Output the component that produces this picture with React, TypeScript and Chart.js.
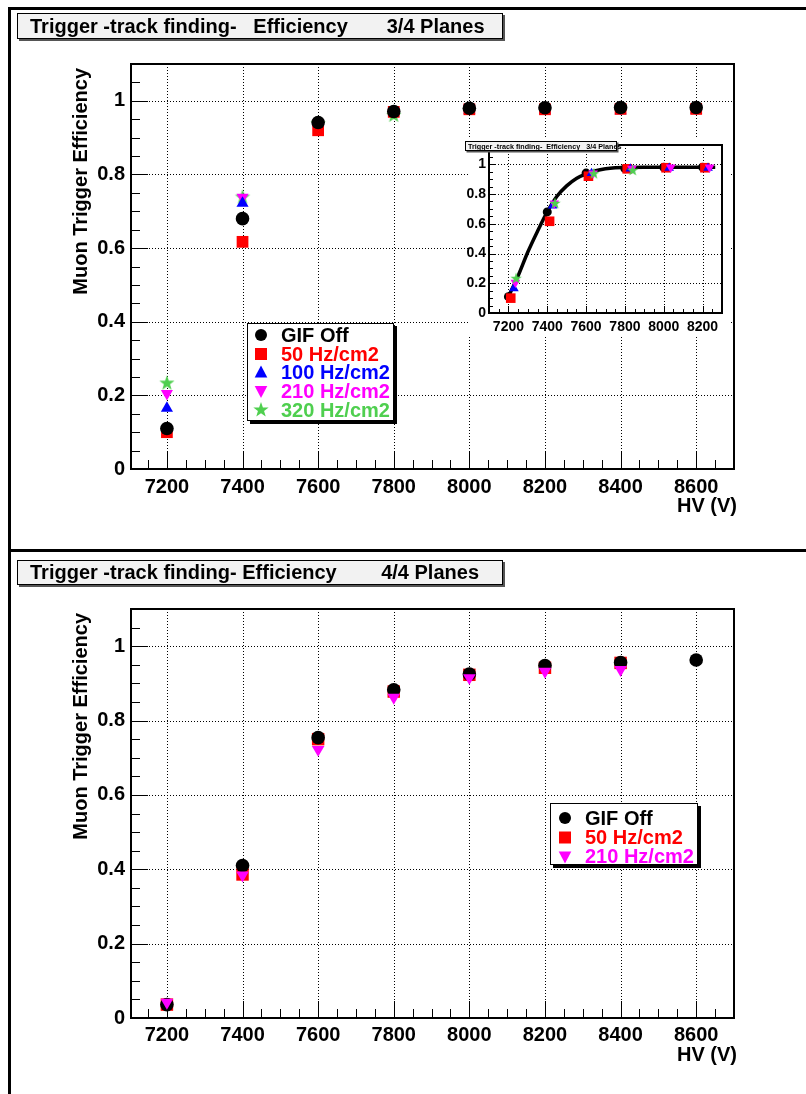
import React, { useEffect, useRef } from "react";
import { Chart, registerables } from "chart.js";

Chart.register(...registerables);

const FONT = "'Liberation Sans', Arial, Helvetica, sans-serif";

// ---------- data ----------
const hvValues = [7200, 7400, 7600, 7800, 8000, 8200, 8400, 8600];
const xTickValues = [7200, 7400, 7600, 7800, 8000, 8200, 8400, 8600];
const insetXTickValues = [7200, 7400, 7600, 7800, 8000, 8200];
const yTickValues = [0, 0.2, 0.4, 0.6, 0.8, 1];
const yTickLabels = ["0", "0.2", "0.4", "0.6", "0.8", "1"];

// 3/4 planes
const eff34GifOff = [0.11, 0.68, 0.941, 0.971, 0.98, 0.981, 0.982, 0.982];
const eff34Hz50 = [0.1, 0.617, 0.92, 0.97, 0.977, 0.977, 0.978, 0.978];
const eff34Hz100 = [0.165, 0.722, 0.94, 0.97, 0.975, 0.975, 0.973, 0.975];
const eff34Hz210 = [0.205, 0.738, 0.94, 0.972, 0.98, 0.98, 0.98, 0.98];
const eff34Hz320 = [0.235, 0.74, 0.94, 0.962];

const insetShift = [0, 12, 28, 36, 40];
const fitHV = [7200, 7250, 7300, 7350, 7400, 7450, 7500, 7550, 7600, 7650, 7700, 7750, 7800, 7900, 8000, 8100, 8200, 8265];
const fitEff = [0.11, 0.25, 0.41, 0.55, 0.68, 0.785, 0.855, 0.905, 0.935, 0.957, 0.97, 0.977, 0.979, 0.98, 0.98, 0.98, 0.98, 0.98];

// 4/4 planes
const eff44GifOff = [0.036, 0.41, 0.754, 0.883, 0.925, 0.948, 0.956, 0.963];
const eff44Hz50 = [0.036, 0.386, 0.75, 0.878, 0.923, 0.942, 0.955];
const eff44Hz210 = [0.042, 0.384, 0.722, 0.862, 0.915, 0.932, 0.937];

const names34 = ["GIF Off", "50 Hz/cm2", "100 Hz/cm2", "210 Hz/cm2", "320 Hz/cm2"];
const names44 = ["GIF Off", "50 Hz/cm2", "210 Hz/cm2"];

const title34 = "Trigger -track finding-   Efficiency       3/4 Planes";
const title44 = "Trigger -track finding- Efficiency        4/4 Planes";
const insetTitle = "Trigger -track finding-  Efficiency   3/4 Planes";
const yTitle = "Muon Trigger Efficiency";
const xTitle = "HV (V)";

// ---------- styles ----------
const BLACK = "#000000";
const RED = "#ff0000";
const BLUE = "#0000ff";
const MAGENTA = "#ff00ff";
const GREEN = "#4fcf4f";

type Kind = "circle" | "square" | "up" | "down" | "star";

function starPath(ctx: CanvasRenderingContext2D, x: number, y: number, R: number) {
  const r = R * 0.4;
  ctx.beginPath();
  for (let i = 0; i < 10; i++) {
    const rad = i % 2 === 0 ? R : r;
    const a = -Math.PI / 2 + (i * Math.PI) / 5;
    const px = x + rad * Math.cos(a);
    const py = y + rad * Math.sin(a);
    if (i === 0) ctx.moveTo(px, py);
    else ctx.lineTo(px, py);
  }
  ctx.closePath();
}

function makeStar(color: string, R: number): HTMLCanvasElement {
  const c = document.createElement("canvas");
  const s = Math.ceil(2 * R + 2);
  c.width = s;
  c.height = s;
  const ctx = c.getContext("2d")!;
  ctx.fillStyle = color;
  starPath(ctx, s / 2, s / 2 + R * 0.1, R);
  ctx.fill();
  return c;
}

function drawMarker(ctx: CanvasRenderingContext2D, kind: Kind, x: number, y: number, s: number, color: string) {
  ctx.save();
  ctx.fillStyle = color;
  ctx.beginPath();
  if (kind === "circle") ctx.arc(x, y, s, 0, Math.PI * 2);
  else if (kind === "square") ctx.rect(x - s, y - s, 2 * s, 2 * s);
  else if (kind === "up") {
    ctx.moveTo(x, y - s);
    ctx.lineTo(x + s * 0.9, y + s * 0.7);
    ctx.lineTo(x - s * 0.9, y + s * 0.7);
    ctx.closePath();
  } else if (kind === "down") {
    ctx.moveTo(x, y + s);
    ctx.lineTo(x + s * 0.9, y - s * 0.7);
    ctx.lineTo(x - s * 0.9, y - s * 0.7);
    ctx.closePath();
  } else starPath(ctx, x, y, s * 1.15);
  ctx.fill();
  ctx.restore();
}

function drawTitleBox(ctx: CanvasRenderingContext2D, x: number, y: number, w: number, h: number, text: string, size: number, tx: number, baseline: number, shadow: number) {
  ctx.save();
  ctx.fillStyle = "#555";
  ctx.fillRect(x + shadow, y + shadow, w, h);
  ctx.fillStyle = "#f2f2f2";
  ctx.fillRect(x, y, w, h);
  ctx.strokeStyle = "#000";
  ctx.lineWidth = 1;
  ctx.strokeRect(x + 0.5, y + 0.5, w - 1, h - 1);
  ctx.fillStyle = "#000";
  ctx.font = `bold ${size}px ${FONT}`;
  ctx.textAlign = "left";
  ctx.textBaseline = "alphabetic";
  ctx.fillText(text, tx, baseline);
  ctx.restore();
}

interface LegendEntry { label: string; color: string; kind: Kind; size: number }

function drawLegend(ctx: CanvasRenderingContext2D, x: number, y: number, w: number, h: number, entries: LegendEntry[], rowY: number[], markerX: number, textX: number) {
  ctx.save();
  ctx.fillStyle = "#000";
  ctx.fillRect(x + 3, y + 3, w, h);
  ctx.fillStyle = "#fff";
  ctx.fillRect(x, y, w, h);
  ctx.strokeStyle = "#000";
  ctx.lineWidth = 1;
  ctx.strokeRect(x + 0.5, y + 0.5, w - 1, h - 1);
  ctx.font = `bold 20px ${FONT}`;
  ctx.textBaseline = "middle";
  ctx.textAlign = "left";
  entries.forEach((e, i) => {
    drawMarker(ctx, e.kind, markerX, rowY[i], e.size, e.color);
    ctx.fillStyle = e.color;
    ctx.fillText(e.label, textX, rowY[i] + 1);
  });
  ctx.restore();
}

interface FrameOpts {
  xMinorStep: number;
  yMinorStep: number;
  xMajor: number[];
  yMajor: number[];
  majorLen: number;
  minorLen: number;
  frameWidth: number;
  background?: { x: number; y: number; w: number; h: number };
  after?: (chart: Chart) => void;
}

function framePlugin(o: FrameOpts) {
  return {
    id: "rootFrame",
    beforeDraw(chart: Chart) {
      if (!o.background) return;
      const ctx = chart.ctx;
      ctx.save();
      ctx.fillStyle = "#fff";
      ctx.fillRect(o.background.x, o.background.y, o.background.w, o.background.h);
      ctx.restore();
    },
    beforeDatasetsDraw(chart: Chart) {
      const ctx = chart.ctx;
      const a = chart.chartArea;
      const xs = chart.scales.x;
      const ys = chart.scales.y;
      ctx.save();
      // dotted grid
      ctx.strokeStyle = "#000";
      ctx.lineWidth = 1;
      ctx.setLineDash([1, 2]);
      o.xMajor.forEach((v) => {
        const px = Math.round(xs.getPixelForValue(v)) + 0.5;
        ctx.beginPath();
        ctx.moveTo(px, a.top);
        ctx.lineTo(px, a.bottom);
        ctx.stroke();
      });
      o.yMajor.forEach((v) => {
        if (v === 0) return;
        const py = Math.round(ys.getPixelForValue(v)) + 0.5;
        ctx.beginPath();
        ctx.moveTo(a.left, py);
        ctx.lineTo(a.right, py);
        ctx.stroke();
      });
      ctx.setLineDash([]);
      // ticks on the x axis
      ctx.lineWidth = 1;
      const firstX = Math.ceil(xs.min / o.xMinorStep);
      const lastX = Math.floor(xs.max / o.xMinorStep);
      for (let k = firstX; k <= lastX; k++) {
        const v = k * o.xMinorStep;
        const major = o.xMajor.some((m) => Math.abs(m - v) < 1e-6);
        const px = Math.round(xs.getPixelForValue(v)) + 0.5;
        ctx.beginPath();
        ctx.moveTo(px, a.bottom);
        ctx.lineTo(px, a.bottom - (major ? o.majorLen : o.minorLen));
        ctx.stroke();
      }
      // ticks on the y axis
      const lastY = Math.floor(ys.max / o.yMinorStep + 1e-6);
      for (let k = 0; k <= lastY; k++) {
        const v = k * o.yMinorStep;
        const major = o.yMajor.some((m) => Math.abs(m - v) < 1e-6);
        const py = Math.round(ys.getPixelForValue(v)) + 0.5;
        ctx.beginPath();
        ctx.moveTo(a.left, py);
        ctx.lineTo(a.left + (major ? o.majorLen : o.minorLen), py);
        ctx.stroke();
      }
      // frame
      ctx.lineWidth = o.frameWidth;
      ctx.strokeRect(a.left, a.top, a.right - a.left, a.bottom - a.top);
      ctx.restore();
    },
    afterDraw(chart: Chart) {
      if (o.after) o.after(chart);
    },
  };
}

function pts(xs: number[], ys: number[], shift = 0) {
  return ys.map((y, i) => ({ x: xs[i] + shift, y }));
}

function axisTitles(chart: Chart) {
  const ctx = chart.ctx;
  const a = chart.chartArea;
  ctx.save();
  ctx.fillStyle = "#000";
  ctx.font = `bold 20px ${FONT}`;
  ctx.textBaseline = "middle";
  ctx.textAlign = "right";
  ctx.fillText(xTitle, a.right + 3, a.bottom + 37);
  ctx.translate(81, a.top + 4);
  ctx.rotate(-Math.PI / 2);
  ctx.textAlign = "right";
  ctx.fillText(yTitle, 0, 0);
  ctx.restore();
}

function scales(xMin: number, xMax: number, yMax: number, xTicks: number[], yWidth: number, xHeight: number, fontSize: number, xPad: number, yPad: number) {
  const font = { family: FONT, size: fontSize, weight: "bold" as const };
  return {
    x: {
      type: "linear" as const,
      min: xMin,
      max: xMax,
      grid: { display: false, drawTicks: false },
      border: { display: false },
      afterBuildTicks: (s: any) => {
        s.ticks = xTicks.map((v) => ({ value: v }));
      },
      afterFit: (s: any) => {
        s.height = xHeight;
      },
      ticks: {
        autoSkip: false,
        maxRotation: 0,
        color: "#000",
        padding: xPad,
        font,
        callback: (v: any) => String(v),
      },
    },
    y: {
      type: "linear" as const,
      min: 0,
      max: yMax,
      grid: { display: false, drawTicks: false },
      border: { display: false },
      afterBuildTicks: (s: any) => {
        s.ticks = yTickValues.map((v) => ({ value: v }));
      },
      afterFit: (s: any) => {
        s.width = yWidth;
      },
      ticks: {
        autoSkip: false,
        color: "#000",
        padding: yPad,
        font,
        callback: (_v: any, i: number) => yTickLabels[i],
      },
    },
  };
}

function ds(data: { x: number; y: number }[], color: string, style: any, radius: number, order: number, rotation = 0) {
  return {
    data,
    showLine: false,
    backgroundColor: color,
    borderColor: color,
    borderWidth: 0,
    pointStyle: style,
    pointRadius: radius,
    pointHoverRadius: radius,
    pointRotation: rotation,
    order,
  };
}

export default function App() {
  const topRef = useRef<HTMLCanvasElement>(null);
  const insetRef = useRef<HTMLCanvasElement>(null);
  const botRef = useRef<HTMLCanvasElement>(null);

  useEffect(() => {
    const star = makeStar(GREEN, 8);
    const smallStar = makeStar(GREEN, 6);

    const common = {
      responsive: false,
      animation: false as const,
      devicePixelRatio: 1,
      events: [] as any[],
      plugins: { legend: { display: false }, tooltip: { enabled: false }, title: { display: false } },
    };

    // ---- top: 3/4 planes ----
    const topChart = new Chart(topRef.current!, {
      type: "scatter",
      data: {
        datasets: [
          ds(pts(hvValues, eff34GifOff), BLACK, "circle", 6.8, 0),
          ds(pts(hvValues, eff34Hz50), RED, "rect", 8.3, 1),
          ds(pts(hvValues, eff34Hz100), BLUE, "triangle", 7, 2),
          ds(pts(hvValues, eff34Hz210), MAGENTA, "triangle", 7, 3, 180),
          ds(pts(hvValues, eff34Hz320), GREEN, star, 8, 4),
        ] as any,
      },
      options: {
        ...common,
        layout: { padding: { left: 0, top: 64, right: 72, bottom: 51 } },
        scales: scales(7105, 8700, 1.1, xTickValues, 131, 30, 20, 6, 6),
      } as any,
      plugins: [
        framePlugin({
          xMinorStep: 50,
          yMinorStep: 0.05,
          xMajor: xTickValues,
          yMajor: yTickValues,
          majorLen: 17,
          minorLen: 9,
          frameWidth: 2,
          after: (chart) => {
            const ctx = chart.ctx;
            drawTitleBox(ctx, 17, 13, 486, 26, title34, 20, 30, 33, 2);
            axisTitles(chart);
            drawLegend(
              ctx, 247, 323, 147, 98,
              [
                { label: names34[0], color: BLACK, kind: "circle", size: 6 },
                { label: names34[1], color: RED, kind: "square", size: 6 },
                { label: names34[2], color: BLUE, kind: "up", size: 7 },
                { label: names34[3], color: MAGENTA, kind: "down", size: 7 },
                { label: names34[4], color: GREEN, kind: "star", size: 7 },
              ],
              [335, 354, 372.5, 391, 410], 261, 281
            );
          },
        }),
      ] as any,
    });

    // ---- inset ----
    const insetChart = new Chart(insetRef.current!, {
      type: "scatter",
      data: {
        datasets: [
          {
            data: pts(fitHV, fitEff),
            showLine: true,
            borderColor: BLACK,
            borderWidth: 3.5,
            pointRadius: 0,
            tension: 0.4,
            cubicInterpolationMode: "monotone",
            order: 5,
          },
          ds(pts(hvValues.slice(0, 6), eff34GifOff.slice(0, 6), insetShift[0]), BLACK, "circle", 4.5, 4),
          ds(pts(hvValues.slice(0, 6), eff34Hz50.slice(0, 6), insetShift[1]), RED, "rect", 6.8, 3),
          ds(pts(hvValues.slice(0, 6), eff34Hz100.slice(0, 6), insetShift[2]), BLUE, "triangle", 5.6, 2),
          ds(pts(hvValues.slice(0, 6), eff34Hz210.slice(0, 6), insetShift[3]), MAGENTA, "triangle", 5.6, 1, 180),
          ds(pts(hvValues, eff34Hz320, insetShift[4]), GREEN, smallStar, 6, 0),
        ] as any,
      },
      options: {
        ...common,
        layout: { padding: { left: 0, top: 16, right: 9, bottom: 2 } },
        scales: scales(7100, 8300, 1.13, insetXTickValues, 25, 20, 14, 6, 3),
      } as any,
      plugins: [
        framePlugin({
          xMinorStep: 50,
          yMinorStep: 0.05,
          xMajor: insetXTickValues,
          yMajor: yTickValues,
          majorLen: 7,
          minorLen: 4,
          frameWidth: 2,
          background: { x: 4, y: 10, w: 263, h: 196 },
          after: (chart) => {
            drawTitleBox(chart.ctx, 1, 12, 152, 10, insetTitle, 7.2, 4, 20, 1.5);
          },
        }),
      ] as any,
    });

    // ---- bottom: 4/4 planes ----
    const botChart = new Chart(botRef.current!, {
      type: "scatter",
      data: {
        datasets: [
          ds(pts(hvValues, eff44GifOff), BLACK, "circle", 6.8, 1),
          ds(pts(hvValues, eff44Hz50), RED, "rect", 8.8, 2),
          ds(pts(hvValues, eff44Hz210), MAGENTA, "triangle", 7.3, 0, 180),
        ] as any,
      },
      options: {
        ...common,
        layout: { padding: { left: 0, top: 59, right: 72, bottom: 46 } },
        scales: scales(7105, 8700, 1.1, xTickValues, 131, 30, 20, 5, 6),
      } as any,
      plugins: [
        framePlugin({
          xMinorStep: 50,
          yMinorStep: 0.05,
          xMajor: xTickValues,
          yMajor: yTickValues,
          majorLen: 17,
          minorLen: 9,
          frameWidth: 2,
          after: (chart) => {
            const ctx = chart.ctx;
            drawTitleBox(ctx, 17, 10, 486, 25, title44, 20, 30, 29, 2);
            axisTitles(chart);
            drawLegend(
              ctx, 550, 253, 148, 62,
              [
                { label: names44[0], color: BLACK, kind: "circle", size: 6 },
                { label: names44[1], color: RED, kind: "square", size: 6 },
                { label: names44[2], color: MAGENTA, kind: "down", size: 7 },
              ],
              [268, 287.5, 306.5], 565, 585
            );
          },
        }),
      ] as any,
    });

    return () => {
      topChart.destroy();
      insetChart.destroy();
      botChart.destroy();
    };
  }, []);

  const line = (l: number, t: number, w: number, h: number) => (
    <div style={{ position: "absolute", left: l, top: t, width: w, height: h, background: "#000" }} />
  );

  return (
    <div style={{ position: "absolute", left: 0, top: 0, width: 806, height: 1094, background: "#fff", overflow: "hidden" }}>
      <canvas ref={topRef} width={806} height={550} style={{ position: "absolute", left: 0, top: 0, width: 806, height: 550 }} />
      <canvas ref={botRef} width={806} height={544} style={{ position: "absolute", left: 0, top: 550, width: 806, height: 544 }} />
      <canvas ref={insetRef} width={267} height={206} style={{ position: "absolute", left: 464, top: 129, width: 267, height: 206 }} />
      {line(8, 7, 798, 3)}
      {line(8, 7, 3, 1087)}
      {line(8, 549, 798, 3)}
    </div>
  );
}
